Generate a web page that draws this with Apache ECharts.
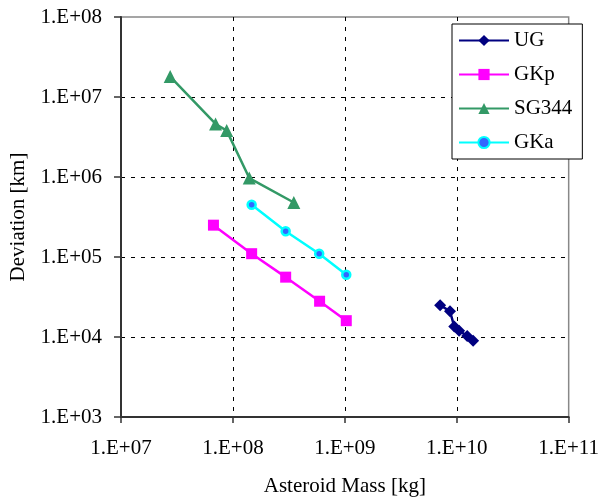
<!DOCTYPE html>
<html>
<head>
<meta charset="utf-8">
<script src="https://cdn.jsdelivr.net/npm/echarts@6/dist/echarts.min.js"></script>
<style>
  html, body { margin: 0; padding: 0; background: #fff; }
  #chart { width: 602px; height: 502px; }
</style>
</head>
<body>
<div id="chart"></div>
<script>
// Asteroid mass [kg] vs. deviation [km] for each deflection scenario
const ugMass = [7.1e9, 8.7e9, 9.5e9, 1.05e10, 1.24e10, 1.4e10];
const ugDev = [2.5e4, 2.1e4, 1.35e4, 1.2e4, 1.03e4, 9.0e3];

const gkpMass = [6.7e7, 1.47e8, 2.96e8, 5.95e8, 1.03e9];
const gkpDev = [2.5e5, 1.1e5, 5.6e4, 2.8e4, 1.6e4];

const sgMass = [2.75e7, 7.0e7, 8.8e7, 1.4e8, 3.5e8];
const sgDev = [1.8e7, 4.6e6, 3.8e6, 9.7e5, 4.8e5];

const gkaMass = [1.47e8, 2.96e8, 5.9e8, 1.03e9];
const gkaDev = [4.5e5, 2.1e5, 1.1e5, 6.0e4];

const seriesNames = ['UG', 'GKp', 'SG344', 'GKa'];

const pairs = (xs, ys) => xs.map((x, i) => [x, ys[i]]);
const expLabel = v => '1.E+' + String(Math.round(Math.log10(v))).padStart(2, '0');

const FONT = 'Liberation Serif';
const gridDash = { show: true, showMinLine: false, showMaxLine: false,
  lineStyle: { color: '#000', width: 1, type: [4, 6] } };
const axisLine = { show: true, lineStyle: { color: '#333', width: 2 } };
const txt = { fontFamily: FONT, fontSize: 21, color: '#000' };

const chart = echarts.init(document.getElementById('chart'), null, { renderer: 'canvas' });
chart.setOption({
  backgroundColor: '#fff',
  animation: false,
  textStyle: { fontFamily: FONT, color: '#000' },
  grid: {
    left: 121, right: 32, top: 17, bottom: 83,
    show: true, borderColor: '#888', borderWidth: 1.5, backgroundColor: '#fff'
  },
  legend: {
    orient: 'vertical',
    left: 452, top: 24,
    padding: [6, 10, 6, 6],
    itemWidth: 50, itemHeight: 14, itemGap: 13,
    backgroundColor: '#fff',
    borderColor: '#000', borderWidth: 1,
    textStyle: txt,
    data: seriesNames
  },
  xAxis: {
    type: 'log', logBase: 10, min: 1e7, max: 1e11,
    name: 'Asteroid Mass [kg]', nameLocation: 'middle', nameGap: 59,
    nameTextStyle: txt,
    axisLine: axisLine,
    axisTick: { show: true, length: 6, lineStyle: { color: '#333', width: 1.5 } },
    axisLabel: Object.assign({ margin: 21, formatter: expLabel }, txt),
    splitLine: gridDash,
    minorTick: { show: false }
  },
  yAxis: {
    type: 'log', logBase: 10, min: 1e3, max: 1e8,
    name: 'Deviation [km]', nameLocation: 'middle', nameGap: 92,
    nameTextStyle: txt,
    axisLine: axisLine,
    axisTick: { show: true, length: 7, lineStyle: { color: '#333', width: 1.5 } },
    axisLabel: Object.assign({ margin: 19, formatter: expLabel }, txt),
    splitLine: gridDash,
    minorTick: { show: false }
  },
  series: [
    {
      name: 'UG', type: 'line', data: pairs(ugMass, ugDev),
      symbol: 'diamond', symbolSize: 12,
      lineStyle: { color: '#000080', width: 2.5 },
      itemStyle: { color: '#000080' }
    },
    {
      name: 'GKp', type: 'line', data: pairs(gkpMass, gkpDev),
      symbol: 'rect', symbolSize: 11,
      lineStyle: { color: '#ff00ff', width: 2.5 },
      itemStyle: { color: '#ff00ff' }
    },
    {
      name: 'SG344', type: 'line', data: pairs(sgMass, sgDev),
      symbol: 'triangle', symbolSize: 13,
      lineStyle: { color: '#339966', width: 2.5 },
      itemStyle: { color: '#339966' }
    },
    {
      name: 'GKa', type: 'line', data: pairs(gkaMass, gkaDev),
      symbol: 'circle', symbolSize: 8,
      lineStyle: { color: '#00ffff', width: 2.5 },
      itemStyle: { color: '#3366ff', borderColor: '#00ffff', borderWidth: 2.5 }
    }
  ]
});
</script>
</body>
</html>
